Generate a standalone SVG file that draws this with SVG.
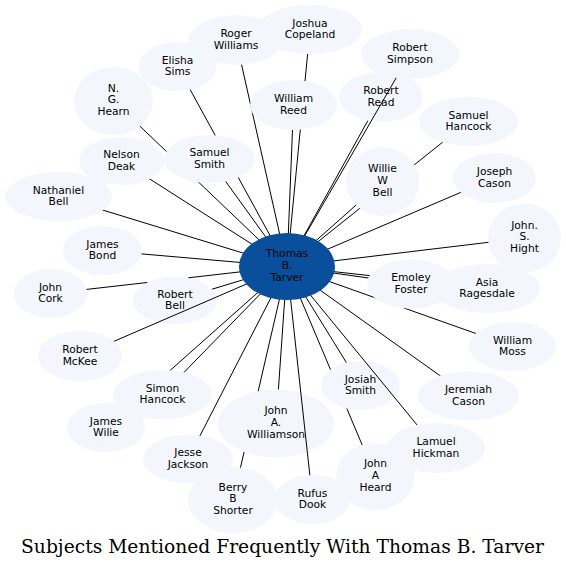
<svg xmlns="http://www.w3.org/2000/svg" width="566" height="569" viewBox="0 0 566 569">
<style>
.n ellipse{fill:#f3f7fd;stroke:none}
.n text{font-family:"DejaVu Sans",sans-serif;font-size:10.7px;fill:#000;text-anchor:middle}
#tarver ellipse{fill:#0a4f9c}
.e path{stroke:#000;stroke-width:1;fill:none}
.title{font-family:"DejaVu Serif",serif;font-size:18.7px;fill:#000;text-anchor:middle}
</style>
<rect width="566" height="569" fill="#fff"/>
<g id="robert_read" class="n"><ellipse cx="381" cy="97" rx="42" ry="25"/><text x="381" y="94.2">Robert<tspan x="381" dy="11.7">Read</tspan></text></g>
<g id="josiah_smith" class="n"><ellipse cx="360.5" cy="385.5" rx="39.5" ry="24.5"/><text x="360.5" y="382.7">Josiah<tspan x="360.5" dy="11.7">Smith</tspan></text></g>
<g id="john_a_williamson" class="n"><ellipse cx="276" cy="423.5" rx="58" ry="34"/><text x="276" y="414.2">John<tspan x="276" dy="11.7">A.</tspan><tspan x="276" dy="11.7">Williamson</tspan></text></g>
<g id="robert_bell" class="n"><ellipse cx="175" cy="300.5" rx="42" ry="24"/><text x="175" y="297.7">Robert<tspan x="175" dy="11.7">Bell</tspan></text></g>
<g id="connectors" class="e">
<path d="M310,29.5L287,266.5"/>
<path d="M236,40L287,266.5"/>
<path d="M177.5,66.5L287,266.5"/>
<path d="M410,54L287,266.5"/>
<path d="M113.5,101L287,266.5"/>
<path d="M293.5,105L287,266.5"/>
<path d="M367.8,120.7L287,266.5"/>
<path d="M468.5,121.5L287,266.5"/>
<path d="M121.5,161L287,266.5"/>
<path d="M209.5,159L287,266.5"/>
<path d="M382.5,181.5L287,266.5"/>
<path d="M494.5,178L287,266.5"/>
<path d="M58.5,196.5L287,266.5"/>
<path d="M102.5,250.5L287,266.5"/>
<path d="M524.5,238L287,266.5"/>
<path d="M411,284L287,266.5"/>
<path d="M487,288.5L287,266.5"/>
<path d="M50.5,293.5L147.2,282.5M188.4,277.8L287,266.5"/>
<path d="M212.1,289.2L287,266.5"/>
<path d="M512.5,346.5L287,266.5"/>
<path d="M80,356L287,266.5"/>
<path d="M162.5,394.5L287,266.5"/>
<path d="M346.4,362.6L287,266.5"/>
<path d="M468.5,396L287,266.5"/>
<path d="M106,427.5L287,266.5"/>
<path d="M278.4,389.5L287,266.5"/>
<path d="M436,448L287,266.5"/>
<path d="M188,459L287,266.5"/>
<path d="M375.5,476.5L346.8,408.5M330.5,369.6L287,266.5"/>
<path d="M233,500L244.1,451.9M258.2,391.2L287,266.5"/>
<path d="M312.5,499.5L287,266.5"/>
</g>
<g id="joshua_copeland" class="n"><ellipse cx="310" cy="29.5" rx="52" ry="24.5"/><text x="310" y="26.7">Joshua<tspan x="310" dy="11.7">Copeland</tspan></text></g>
<g id="roger_williams" class="n"><ellipse cx="236" cy="40" rx="47" ry="25"/><text x="236" y="37.2">Roger<tspan x="236" dy="11.7">Williams</tspan></text></g>
<g id="elisha_sims" class="n"><ellipse cx="177.5" cy="66.5" rx="39" ry="24.5"/><text x="177.5" y="63.7">Elisha<tspan x="177.5" dy="11.7">Sims</tspan></text></g>
<g id="robert_simpson" class="n"><ellipse cx="410" cy="54" rx="49" ry="25"/><text x="410" y="51.2">Robert<tspan x="410" dy="11.7">Simpson</tspan></text></g>
<g id="ng_hearn" class="n"><ellipse cx="113.5" cy="101" rx="39.5" ry="34"/><text x="113.5" y="91.7">N.<tspan x="113.5" dy="11.7">G.</tspan><tspan x="113.5" dy="11.7">Hearn</tspan></text></g>
<g id="william_reed" class="n"><ellipse cx="293.5" cy="105" rx="43.5" ry="25"/><text x="293.5" y="102.2">William<tspan x="293.5" dy="11.7">Reed</tspan></text></g>
<g id="samuel_hancock" class="n"><ellipse cx="468.5" cy="121.5" rx="49.5" ry="24.5"/><text x="468.5" y="118.7">Samuel<tspan x="468.5" dy="11.7">Hancock</tspan></text></g>
<g id="nelson_deak" class="n"><ellipse cx="121.5" cy="161" rx="42.5" ry="24"/><text x="121.5" y="158.2">Nelson<tspan x="121.5" dy="11.7">Deak</tspan></text></g>
<g id="samuel_smith" class="n"><ellipse cx="209.5" cy="159" rx="45.5" ry="24"/><text x="209.5" y="156.2">Samuel<tspan x="209.5" dy="11.7">Smith</tspan></text></g>
<g id="willie_w_bell" class="n"><ellipse cx="382.5" cy="181.5" rx="36.5" ry="34.5"/><text x="382.5" y="172.2">Willie<tspan x="382.5" dy="11.7">W</tspan><tspan x="382.5" dy="11.7">Bell</tspan></text></g>
<g id="joseph_cason" class="n"><ellipse cx="494.5" cy="178" rx="41.5" ry="25"/><text x="494.5" y="175.2">Joseph<tspan x="494.5" dy="11.7">Cason</tspan></text></g>
<g id="nathaniel_bell" class="n"><ellipse cx="58.5" cy="196.5" rx="53.5" ry="24.5"/><text x="58.5" y="193.7">Nathaniel<tspan x="58.5" dy="11.7">Bell</tspan></text></g>
<g id="james_bond" class="n"><ellipse cx="102.5" cy="250.5" rx="39.5" ry="24.5"/><text x="102.5" y="247.7">James<tspan x="102.5" dy="11.7">Bond</tspan></text></g>
<g id="john_s_hight" class="n"><ellipse cx="524.5" cy="238" rx="36.5" ry="34.5"/><text x="524.5" y="228.7">John.<tspan x="524.5" dy="11.7">S.</tspan><tspan x="524.5" dy="11.7">Hight</tspan></text></g>
<g id="asia_ragesdale" class="n"><ellipse cx="487" cy="288.5" rx="53" ry="24.5"/><text x="487" y="285.7">Asia<tspan x="487" dy="11.7">Ragesdale</tspan></text></g>
<g id="emoley_foster" class="n"><ellipse cx="411" cy="284" rx="44" ry="24.5"/><text x="411" y="281.2">Emoley<tspan x="411" dy="11.7">Foster</tspan></text></g>
<g id="john_cork" class="n"><ellipse cx="50.5" cy="293.5" rx="36.5" ry="24.5"/><text x="50.5" y="290.7">John<tspan x="50.5" dy="11.7">Cork</tspan></text></g>
<g id="william_moss" class="n"><ellipse cx="512.5" cy="346.5" rx="43.5" ry="24.5"/><text x="512.5" y="343.7">William<tspan x="512.5" dy="11.7">Moss</tspan></text></g>
<g id="robert_mckee" class="n"><ellipse cx="80" cy="356" rx="42" ry="25"/><text x="80" y="353.2">Robert<tspan x="80" dy="11.7">McKee</tspan></text></g>
<g id="simon_hancock" class="n"><ellipse cx="162.5" cy="394.5" rx="49.5" ry="24.5"/><text x="162.5" y="391.7">Simon<tspan x="162.5" dy="11.7">Hancock</tspan></text></g>
<g id="jeremiah_cason" class="n"><ellipse cx="468.5" cy="396" rx="50.5" ry="24.5"/><text x="468.5" y="393.2">Jeremiah<tspan x="468.5" dy="11.7">Cason</tspan></text></g>
<g id="james_wilie" class="n"><ellipse cx="106" cy="427.5" rx="39" ry="24.5"/><text x="106" y="424.7">James<tspan x="106" dy="11.7">Wilie</tspan></text></g>
<g id="lamuel_hickman" class="n"><ellipse cx="436" cy="448" rx="49" ry="25"/><text x="436" y="445.2">Lamuel<tspan x="436" dy="11.7">Hickman</tspan></text></g>
<g id="jesse_jackson" class="n"><ellipse cx="188" cy="459" rx="45" ry="24"/><text x="188" y="456.2">Jesse<tspan x="188" dy="11.7">Jackson</tspan></text></g>
<g id="john_a_heard" class="n"><ellipse cx="375.5" cy="476.5" rx="39.5" ry="33.5"/><text x="375.5" y="467.2">John<tspan x="375.5" dy="11.7">A</tspan><tspan x="375.5" dy="11.7">Heard</tspan></text></g>
<g id="berry_b_shorter" class="n"><ellipse cx="233" cy="500" rx="45" ry="33"/><text x="233" y="490.7">Berry<tspan x="233" dy="11.7">B</tspan><tspan x="233" dy="11.7">Shorter</tspan></text></g>
<g id="rufus_dook" class="n"><ellipse cx="312.5" cy="499.5" rx="37.5" ry="24.5"/><text x="312.5" y="496.7">Rufus<tspan x="312.5" dy="11.7">Dook</tspan></text></g>
<g id="tarver" class="n"><ellipse cx="287" cy="266.5" rx="48" ry="33.5"/><text x="287" y="257.2">Thomas<tspan x="287" dy="11.7">B.</tspan><tspan x="287" dy="11.7">Tarver</tspan></text></g>
<text class="title" x="282.5" y="553">Subjects Mentioned Frequently With Thomas B. Tarver</text>
</svg>
